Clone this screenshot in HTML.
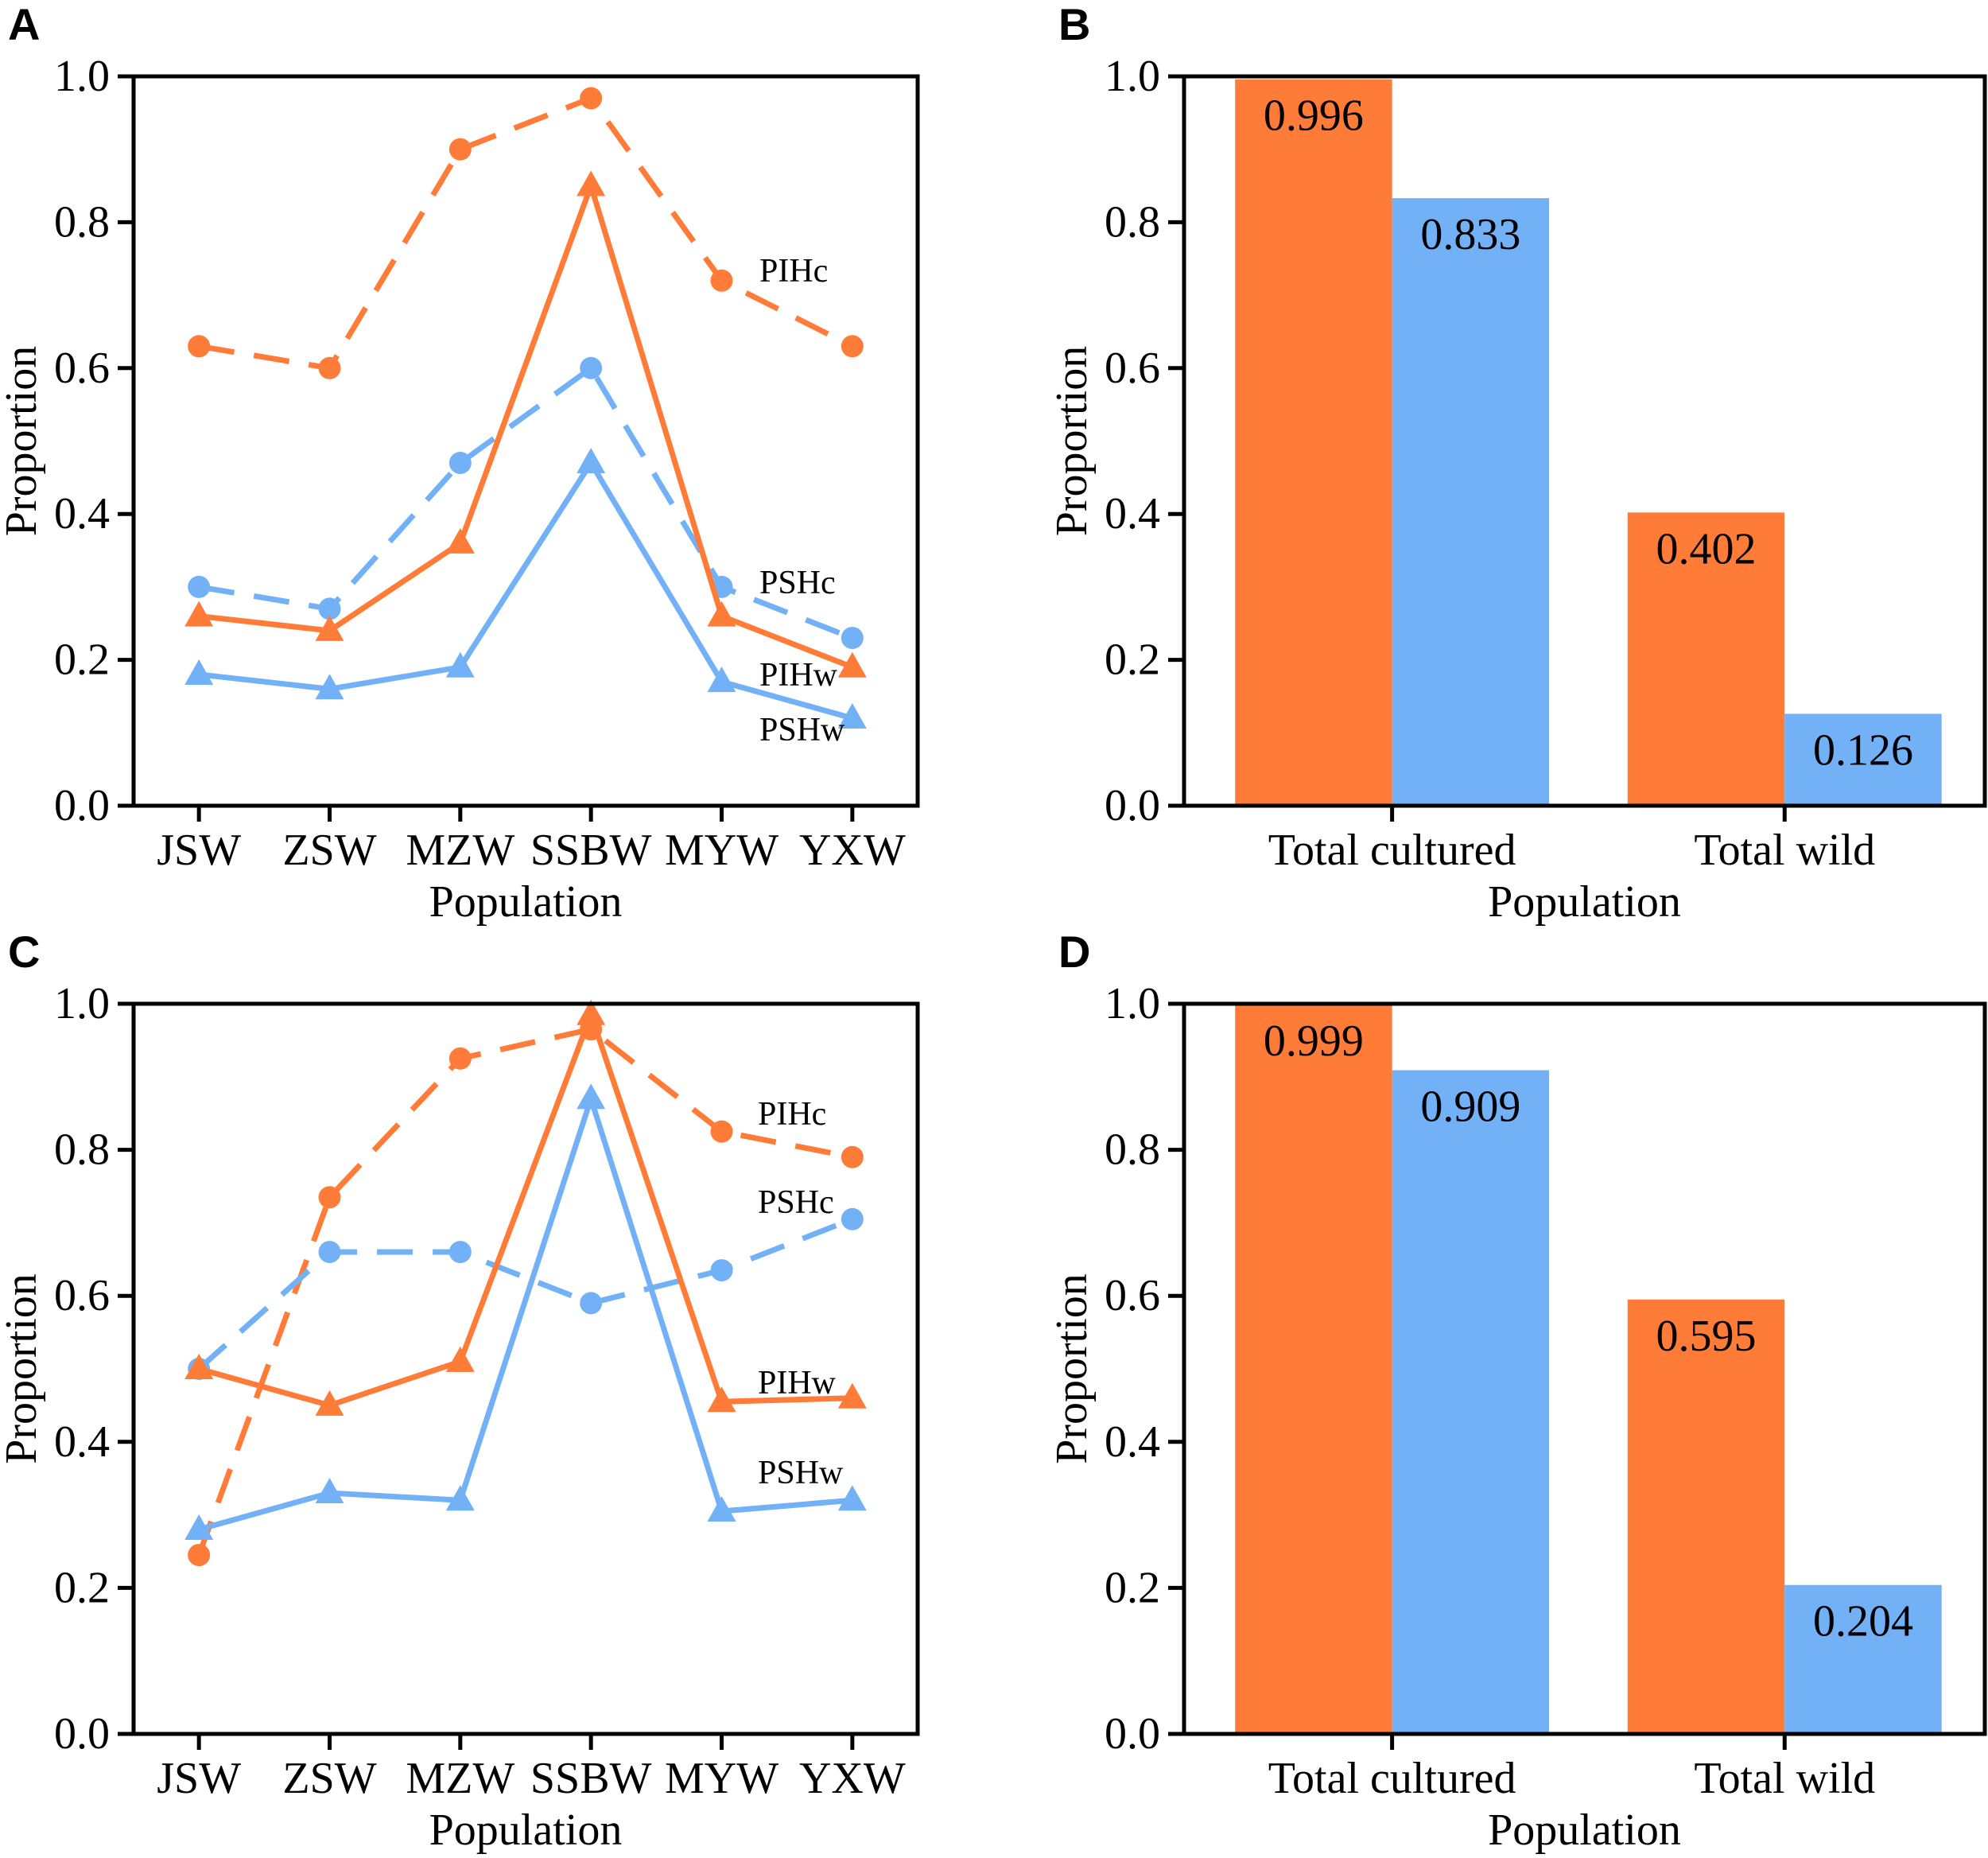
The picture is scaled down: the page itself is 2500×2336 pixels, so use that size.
<!DOCTYPE html>
<html><head><meta charset="utf-8">
<style>
html,body{margin:0;padding:0;background:#fff;}
svg{display:block;}
text{font-family:"Liberation Serif",serif;fill:#000;}
.lbl{font-family:"Liberation Sans",sans-serif;font-weight:bold;}
</style></head>
<body>
<svg id="fig" width="2500" height="2336" viewBox="0 0 2500 2336" xmlns="http://www.w3.org/2000/svg"></svg>
<script>
// ---- data ----
const populations = ["JSW","ZSW","MZW","SSBW","MYW","YXW"];
const yTicks = [0.0,0.2,0.4,0.6,0.8,1.0];
const yTickLabels = ["0.0","0.2","0.4","0.6","0.8","1.0"];
const seriesNames = ["PIHc","PSHc","PIHw","PSHw"];
const A_PIHc = [0.63,0.60,0.90,0.97,0.72,0.63];
const A_PSHc = [0.30,0.27,0.47,0.60,0.30,0.23];
const A_PIHw = [0.26,0.24,0.36,0.85,0.26,0.19];
const A_PSHw = [0.18,0.16,0.19,0.47,0.17,0.12];
const C_PIHc = [0.245,0.735,0.925,0.965,0.825,0.79];
const C_PSHc = [0.50,0.66,0.66,0.59,0.635,0.705];
const C_PIHw = [0.50,0.45,0.51,0.985,0.455,0.46];
const C_PSHw = [0.28,0.33,0.32,0.87,0.305,0.32];
const groups = ["Total cultured","Total wild"];
const B_PIH = [0.996,0.402];
const B_PSH = [0.833,0.126];
const D_PIH = [0.999,0.595];
const D_PSH = [0.909,0.204];
const B_PIH_labels = ["0.996","0.402"];
const B_PSH_labels = ["0.833","0.126"];
const D_PIH_labels = ["0.999","0.595"];
const D_PSH_labels = ["0.909","0.204"];

const ORANGE = "#FF7B38", BLUE = "#73B1F7";
const NS = "http://www.w3.org/2000/svg";
const svg = document.getElementById("fig");
function el(tag, attrs, parent){
  const e = document.createElementNS(NS, tag);
  for (const k in attrs) e.setAttribute(k, attrs[k]);
  (parent||svg).appendChild(e);
  return e;
}
function txt(str, attrs, parent){ const t = el("text", attrs, parent); t.textContent = str; return t; }

function axes(panel, L, R, T, B, xmin, xmax, xTickVals, xTickLabels){
  const g = el("g", {});
  
  
  const sx = v => L + (v - xmin) / (xmax - xmin) * (R - L);
  const sy = v => B - v * (B - T);
  yTicks.forEach((v,i)=>{
    const t = el("line",{x1:L-20,x2:L,y1:sy(v),y2:sy(v),stroke:"#000","stroke-width":5},g);
    
    
    const l = txt(yTickLabels[i],{x:L-30,y:sy(v)+18,"font-size":56,"text-anchor":"end"},g);
    
    
  });
  xTickVals.forEach((v,i)=>{
    const t = el("line",{x1:sx(v),x2:sx(v),y1:B,y2:B+20,stroke:"#000","stroke-width":5},g);
    
    
    const l = txt(xTickLabels[i],{x:sx(v),y:B+74,"font-size":56,"text-anchor":"middle"},g);
    
    
  });
  const yt = txt("Proportion",{x:0,y:0,"font-size":56,"text-anchor":"middle",transform:`translate(${L-123},${(T+B)/2}) rotate(-90)`},g);
  
  
  const xt = txt("Population",{x:(L+R)/2,y:B+139,"font-size":56,"text-anchor":"middle"},g);
  
  
  const pl = txt(panel,{x:L-158,y:T-46,"font-size":56,"class":"lbl"},g);
  
  
  return {g, sx, sy, L, R, T, B};
}
function frame(ax){
  const f = el("rect",{x:ax.L,y:ax.T,width:ax.R-ax.L,height:ax.B-ax.T,fill:"none",stroke:"#000","stroke-width":5},ax.g);
  
  
}
function line(ax, vals, color, dashed, marker, name){
  const pts = vals.map((v,i)=>[ax.sx(i), ax.sy(v)]);
  const p = el("polyline",{points:pts.map(p=>p.join(",")).join(" "),fill:"none",stroke:color,"stroke-width":7,"stroke-linejoin":"round","stroke-dasharray":dashed?"45 25":"none"},ax.g);
  
  
  pts.forEach(([x,y])=>{
    let m;
    if (marker==="o") m = el("circle",{cx:x,cy:y,r:14,fill:color},ax.g);
    else m = el("polygon",{points:`${x},${y-19} ${x+18},${y+13} ${x-18},${y+13}`,fill:color},ax.g);
    
    
  });
}
function note(ax, s, x, y){
  const t = txt(s,{x:x,y:y+14,"font-size":42},ax.g);
  
  
}
function bars(ax, pih, psh, pihL, pshL){
  const w = 0.4;
  groups.forEach((g,i)=>{
    [[pih,pihL,ORANGE,-w,"pih"],[psh,pshL,BLUE,0,"psh"]].forEach(([arr,lab,c,off,nm])=>{
      const x0 = ax.sx(i+off), x1 = ax.sx(i+off+w);
      const r = el("rect",{x:x0,y:ax.sy(arr[i]),width:x1-x0,height:ax.B-ax.sy(arr[i]),fill:c},ax.g);
      
      
      const t = txt(lab[i],{x:(x0+x1)/2,y:ax.sy(arr[i])+64,"font-size":56,"text-anchor":"middle"},ax.g);
      
      
    });
  });
}

const idx = populations.map((_,i)=>i);
const A = axes("A",168,1154,96,1013,-0.5,5.5,idx,populations);
line(A,A_PIHc,ORANGE,true,"o","pihc");
line(A,A_PSHc,BLUE,true,"o","pshc");
line(A,A_PIHw,ORANGE,false,"^","pihw");
line(A,A_PSHw,BLUE,false,"^","pshw");
note(A,"PIHc",955,340); note(A,"PSHc",955,732); note(A,"PIHw",955,848); note(A,"PSHw",955,917);
frame(A);
const C = axes("C",168,1154,1262,2180,-0.5,5.5,idx,populations);
line(C,C_PIHc,ORANGE,true,"o","pihc");
line(C,C_PSHc,BLUE,true,"o","pshc");
line(C,C_PIHw,ORANGE,false,"^","pihw");
line(C,C_PSHw,BLUE,false,"^","pshw");
note(C,"PIHc",953,1400); note(C,"PSHc",953,1511); note(C,"PIHw",953,1738); note(C,"PSHw",953,1851);
frame(C);
const Bx = axes("B",1489,2496,96,1013,-0.53,1.51,[0,1],groups);
bars(Bx,B_PIH,B_PSH,B_PIH_labels,B_PSH_labels);
frame(Bx);
const D = axes("D",1489,2496,1262,2180,-0.53,1.51,[0,1],groups);
bars(D,D_PIH,D_PSH,D_PIH_labels,D_PSH_labels);
frame(D);
</script>
</body></html>
